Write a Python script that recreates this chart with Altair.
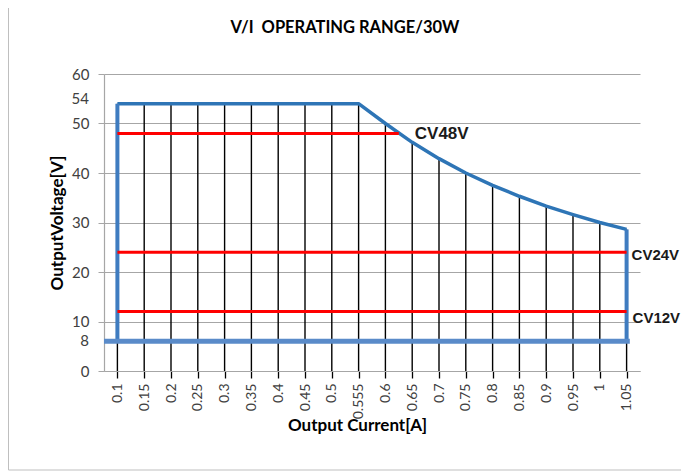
import altair as alt
import pandas as pd

# ---- data ----
currents = [0.1, 0.15, 0.2, 0.25, 0.3, 0.35, 0.4, 0.45, 0.5, 0.55,
            0.6, 0.65, 0.7, 0.75, 0.8, 0.85, 0.9, 0.95, 1.0, 1.05]
voltages = [54, 54, 54, 54, 54, 54, 54, 54, 54, 54,
            50, 46.2, 42.9, 40, 37.5, 35.3, 33.3, 31.6, 30, 28.6]
tick_labels = ["0.1", "0.15", "0.2", "0.25", "0.3", "0.35", "0.4", "0.45", "0.5", "0.555",
               "0.6", "0.65", "0.7", "0.75", "0.8", "0.85", "0.9", "0.95", "1", "1.05"]
bottom_voltage = 6          # where the bottom boundary sits on the scale
bottom_label = "8"
top_label = "54"
cv_names = ["CV48V", "CV24V", "CV12V"]
cv_values = [48, 24, 12]
cv_start = [0.1, 0.1, 0.1]
cv_end = [0.625, 1.05, 1.05]
y_ticks = [0, 10, 20, 30, 40, 50, 60]

W, H = 536, 297
X_DOMAIN = [0.075, 1.075]

curve = pd.DataFrame({"I": currents, "V": voltages})
cv = pd.DataFrame({"name": cv_names, "V": cv_values, "x1": cv_start, "x2": cv_end})
sides = pd.DataFrame({"I": [currents[0], currents[-1]],
                      "top": [voltages[0], voltages[-1]],
                      "bot": [bottom_voltage, bottom_voltage]})
bottom = pd.DataFrame({"x1": [X_DOMAIN[0]], "x2": [1.056], "V": [bottom_voltage]})

label_js = "[" + ",".join("'%s'" % t for t in tick_labels) + "]"

xscale = alt.Scale(domain=X_DOMAIN, nice=False, zero=False)
yscale = alt.Scale(domain=[0, 60], nice=False)

x_axis = alt.Axis(
    values=currents, labelExpr=label_js + "[round((datum.value-0.1)/0.05)]",
    labelAngle=270, labelAlign="right", labelBaseline="middle", labelPadding=5,
    labelFont="Lato", labelFontSize=14, labelColor="#404040",
    tickColor="#000000", tickSize=7, tickWidth=1.3,
    domainColor="#a6a6a6", domainWidth=1.2, grid=False,
    title="Output Current[A]", titleFont="Lato", titleFontSize=17, titleFontWeight="bold",
    titleColor="#000000", titleX=253, titleY=54, titleBaseline="middle",
    titleAlign="center", labelOverlap=False, labelBound=False, labelFlush=False)

y_axis = alt.Axis(
    values=y_ticks, labelFont="Lato", labelFontSize=15, labelColor="#404040",
    labelPadding=9, tickColor="#a6a6a6", tickSize=6,
    domainColor="#a6a6a6", domainWidth=1.2,
    grid=True, gridColor="#a6a6a6", gridWidth=1,
    title="OutputVoltage[V]", titleFont="Lato", titleFontSize=17, titleFontWeight="bold",
    titleColor="#000000", titleX=-47, titleY=H / 2, titleAngle=270,
    titleBaseline="middle", titleAlign="center", labelOverlap=False)


def X(field):
    return alt.X(field, scale=xscale, axis=x_axis)


def Y(field):
    return alt.Y(field, scale=yscale, axis=y_axis)


# drop lines from the curve down to the axis
drops = alt.Chart(curve).mark_rule(color="#000000", strokeWidth=1.4).encode(
    x=X("I:Q"), y=Y("V:Q"), y2=alt.datum(0))

top_line = alt.Chart(curve).mark_line(color="#2e75b6", strokeWidth=3.5,
                                      interpolate="linear", strokeJoin="round").encode(
    x=X("I:Q"), y=Y("V:Q"))

side_lines = alt.Chart(sides).mark_rule(color="#3f7cc0", strokeWidth=4).encode(
    x=X("I:Q"), y=Y("top:Q"), y2="bot:Q")

bottom_line = alt.Chart(bottom).mark_rule(color="#5a8bc9", strokeWidth=5).encode(
    x=X("x1:Q"), x2="x2:Q", y=Y("V:Q"))

cv_lines = alt.Chart(cv).mark_rule(color="#ff0000", strokeWidth=3).encode(
    x=X("x1:Q"), x2="x2:Q", y=Y("V:Q"))


def cv_label(name, dx, dy, size):
    return alt.Chart(cv).transform_filter(alt.datum.name == name).mark_text(
        align="left", baseline="middle", font="Liberation Sans", fontSize=size,
        fontWeight="bold", color="#1a1a1a", dx=dx, dy=dy).encode(
        x=X("x2:Q"), y=Y("V:Q"), text="name:N")


cv_texts = [cv_label("CV48V", 16, 1, 17), cv_label("CV24V", 5, 3, 15),
            cv_label("CV12V", 6, 6, 15)]

extra = pd.DataFrame({"t": [top_label, bottom_label], "V": [voltages[0], bottom_voltage]})
top_text = alt.Chart(extra).transform_filter(alt.datum.t == top_label).mark_text(
    align="right", baseline="middle", font="Lato", fontSize=15, color="#404040", dy=-5).encode(
    x=alt.value(-15), y=Y("V:Q"), text="t:N")
bot_text = alt.Chart(extra).transform_filter(alt.datum.t == bottom_label).mark_text(
    align="right", baseline="middle", font="Lato", fontSize=15, color="#404040").encode(
    x=alt.value(-15), y=Y("V:Q"), text="t:N")

title = alt.Chart(pd.DataFrame({"t": ["V/I\u00a0\u00a0OPERATING RANGE/30W"]})).mark_text(
    align="center", baseline="middle", font="Lato", fontSize=16.5, fontWeight="bold",
    color="#000000").encode(x=alt.value(241), y=alt.value(-46), text="t:N")

frame = alt.Chart(pd.DataFrame({"a": [0]})).mark_rect(
    fill=None, stroke="#bfbfbf", strokeWidth=1).encode(
    x=alt.value(-95.5), x2=alt.value(W + 46), y=alt.value(-66.5), y2=alt.value(H + 99))

chart = alt.layer(drops, top_line, side_lines, bottom_line, cv_lines, *cv_texts,
                  top_text, bot_text, title, frame).properties(
    width=W, height=H,
    autosize=alt.AutoSizeParams(type="none"),
    padding={"left": 96, "top": 66, "right": 41, "bottom": 100},
    background="#ffffff",
).configure_view(stroke=None)

chart.save("out.html", embed_options={"renderer": "svg", "actions": False})
